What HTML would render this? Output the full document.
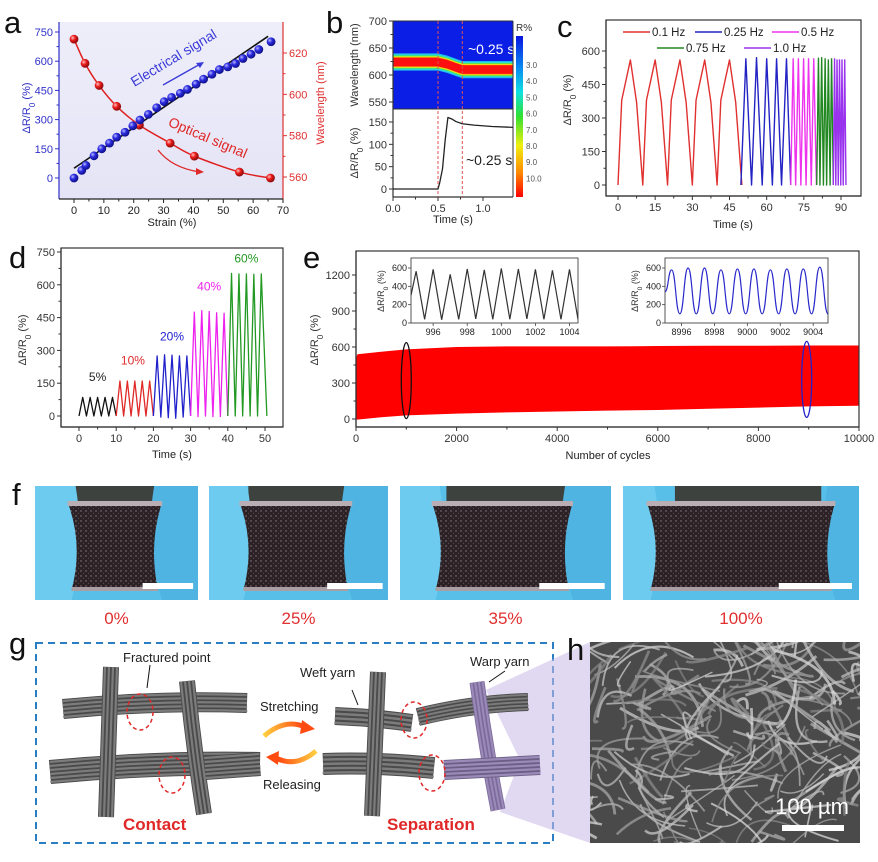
<!DOCTYPE html>
<html><head><meta charset="utf-8">
<style>
html,body{margin:0;padding:0;background:#fff;}
svg{display:block;font-family:"Liberation Sans",Arial,sans-serif;}
</style></head>
<body>
<svg id="fig" xmlns="http://www.w3.org/2000/svg" width="878" height="862" viewBox="0 0 878 862">
<defs>
<radialGradient id="ballBlue" cx="35%" cy="35%" r="65%"><stop offset="0" stop-color="#b8b8ff"/><stop offset="0.45" stop-color="#2a2ae0"/><stop offset="1" stop-color="#10108a"/></radialGradient>
<radialGradient id="ballRed" cx="35%" cy="35%" r="65%"><stop offset="0" stop-color="#ffc0c0"/><stop offset="0.45" stop-color="#ee1c1c"/><stop offset="1" stop-color="#8a0a0a"/></radialGradient>
<linearGradient id="cbar" x1="0" y1="0" x2="0" y2="1"><stop offset="0" stop-color="#0a14e0"/><stop offset="0.2" stop-color="#0a8cf0"/><stop offset="0.35" stop-color="#10e0e0"/><stop offset="0.5" stop-color="#30e030"/><stop offset="0.68" stop-color="#f0f010"/><stop offset="0.85" stop-color="#ff8800"/><stop offset="1" stop-color="#ff0000"/></linearGradient>
<linearGradient id="aBg" x1="0" y1="0" x2="0" y2="1"><stop offset="0" stop-color="#eeeefa"/><stop offset="1" stop-color="#e4e4f6"/></linearGradient>
<linearGradient id="orangeR" x1="0" y1="0" x2="1" y2="0"><stop offset="0" stop-color="#ffd040"/><stop offset="1" stop-color="#ff4010"/></linearGradient>
<linearGradient id="orangeL" x1="1" y1="0" x2="0" y2="0"><stop offset="0" stop-color="#ffd040"/><stop offset="1" stop-color="#ff4010"/></linearGradient>
<pattern id="speck" width="5" height="5" patternUnits="userSpaceOnUse"><rect width="5" height="5" fill="#2c2226"/><circle cx="1" cy="1" r="0.7" fill="#8c8088"/><circle cx="3.5" cy="3.2" r="0.5" fill="#6a5e66"/></pattern>
<clipPath id="heatClip"><rect x="393" y="21" width="120" height="88"/></clipPath>
<clipPath id="hClip"><rect x="590" y="642" width="270" height="201"/></clipPath>
</defs>
</svg>
<script>
// ---------------- DATA ----------------
// panel a
const aStrain = [0,2.6,4,6.7,9.3,11.9,14.3,17.1,19.7,22.1,24.9,27.7,30.2,32.7,35.6,38,40.9,43.4,46.2,48.7,51.5,54.1,56.6,59.3,61.9,66];
const aElec = [0,39,65,114,150,179,210,235,268,298,327,361,392,414,435,455,482,508,533,557,571,588,614,636,660,700];
const aOptStrain = [0,3.7,8.4,14.3,21.9,32.2,40.3,55.4,65.8];
const aOptWave = [626.7,615,604.3,594.2,585.1,576.4,570.1,562.4,559.5];
const aFitStrain = [0,65];
const aFitVal = [50,728];
const aXTicks = [0,10,20,30,40,50,60,70];
const aYTicks = [0,150,300,450,600,750];
const aRTicks = [560,580,600,620];
// panel b
const heatT = [0,0.5,0.6,0.7,0.77,1.33];
const heatC = [624,624,620,614,610,610];
const bT = [0,0.5,0.52,0.55,0.58,0.61,0.65,0.7,0.77,0.9,1.1,1.33];
const bV = [0,0,15,45,110,160,157,151,146,143,140,138];
const bMarks = [0.5,0.77];
const bWaveTicks = [550,600,650,700];
const bRTicks = [0,50,100,150];
const bXTicks = [0,0.5,1.0];
const bXLabels = ["0.0","0.5","1.0"];
const cbarLabels = ["3.0","4.0","5.0","6.0","7.0","8.0","9.0","10.0"];
// panel c
const c01T = [0,1.5,5,7.5,10,11.5,15,17.5,20,21.5,25,27.5,30,31.5,35,37.5,40,41.5,45,47.5,50];
const c01V = [0,380,560,370,0,380,560,370,0,380,560,370,0,380,560,370,0,380,560,370,0];
const c025T = [49.6,51.6,53.9,55.9,58.2,60,62.3,64,66,68,69.7];
const c025V = [0,565,0,570,0,565,0,565,0,565,0];
const c05T = [69.7,70.7,71.7,72.8,73.8,74.9,75.9,76.9,78,79,80.1];
const c05V = [0,565,0,565,0,565,0,565,0,565,0];
const c075T = [80.2,80.9,81.5,82.2,82.9,83.6,84.2,84.9,85.6,86.2,86.9];
const c075V = [0,568,0,570,0,565,0,560,0,565,0];
const c10T = [86.9,87.4,87.9,88.4,88.9,89.4,89.9,90.4,90.9,91.5,92];
const c10V = [0,565,0,560,0,560,0,560,0,560,0];
const cXTicks = [0,15,30,45,60,75,90];
const cYTicks = [0,150,300,450,600];
// panel d
const dT5 = [0,1,2,3,4,5,6,7,8,9,10];
const d5V = [0,85,0,85,0,85,0,85,0,85,0];
const dT10 = [10,11,12,13,14,15,16,17,18,19,20];
const d10V = [0,160,0,160,0,160,0,160,0,160,0];
const dT20 = [20,21,22,23,24,25,26,27,28,29,30];
const d20V = [0,275,-5,280,-8,278,-10,275,-5,275,0];
const dT40 = [30,31,32,33,34,35,36,37,38,39,40];
const d40V = [0,475,-3,482,0,478,-3,472,-2,470,0];
const dT60 = [40,41,42,43,44,45,46,47,48,49,50.5];
const d60V = [0,652,0,650,0,650,0,648,0,650,0];
const dXTicks = [0,10,20,30,40,50];
const dYTicks = [0,150,300,450,600,750];
// panel e
const eN = [0,30,500,1000,2000,3000,4000,5000,6000,7000,8000,9000,10000];
const eTop = [510,540,560,580,600,605,605,605,608,610,610,612,612];
const eBot = [0,-5,15,30,45,55,62,70,75,85,95,105,110];
const eXTicks = [0,2000,4000,6000,8000,10000];
const eYTicks = [0,300,600,900,1200];
const in1Peaks = [995,996,997,998,999,1000,1001,1002,1003,1004];
const in1PeakV = [565,585,530,590,580,595,590,585,575,585];
const in1TroughV = [40,35,40,45,40,40,45,40,40,40];
const in2Peaks = [8995.4,8996.4,8997.4,8998.4,8999.4,9000.4,9001.4,9002.4,9003.4,9004.4];
const in2PeakV = [580,600,600,580,590,590,580,590,590,610];
const in2TroughV = [100,100,100,100,100,100,100,100,100,100];
const in1XTicks = [996,998,1000,1002,1004];
const in2XTicks = [8996,8998,9000,9002,9004];
const inYTicks = [0,200,400,600];

// ---------------- HELPERS ----------------
const NS = "http://www.w3.org/2000/svg";
const svg = document.getElementById('fig');
function el(tag, attrs, parent){
  const e = document.createElementNS(NS, tag);
  for (const k in attrs) e.setAttribute(k, attrs[k]);
  (parent || svg).appendChild(e);
  return e;
}
function grp(name){
  const g = el('g', {});
  
  
  return g;
}
function txt(parent, x, y, s, opts, name){
  const t = el('text', Object.assign({x:x, y:y, 'font-size':11, fill:'#222'}, opts||{}), parent);
  t.textContent = s;
  
  
  return t;
}
function ln(parent, x1,y1,x2,y2, stroke, w, name, extra){
  const l = el('line', Object.assign({x1:x1,y1:y1,x2:x2,y2:y2,stroke:stroke,'stroke-width':w}, extra||{}), parent);
  
  
  return l;
}
function lin(d0,d1,r0,r1){ return v => r0 + (v-d0)*(r1-r0)/(d1-d0); }
function axis(parent, dir, pos, a, b, ticks, scale, color, name, labels, fs, minor){
  const g = el('g', {}, parent);
  
  
  if (dir === 'bottom') ln(g, a, pos, b, pos, color, 1.2, name + '-line');
  else ln(g, pos, a, pos, b, color, 1.2, name + '-line');
  ticks.forEach((v,i) => {
    const p = scale(v);
    const lab = labels ? labels[i] : String(v);
    if (dir === 'left') {
      ln(g, pos-4, p, pos, p, color, 1, name + '-tick');
      txt(g, pos-6, p+4, lab, {'text-anchor':'end', fill:color, 'font-size':fs||11}, name + '-label');
    } else if (dir === 'right') {
      ln(g, pos, p, pos+4, p, color, 1, name + '-tick');
      txt(g, pos+6, p+4, lab, {'text-anchor':'start', fill:color, 'font-size':fs||11}, name + '-label');
    } else {
      ln(g, p, pos, p, pos+4, color, 1, name + '-tick');
      txt(g, p, pos+15, lab, {'text-anchor':'middle', fill:color, 'font-size':fs||11}, name + '-label');
    }
  });
  if (minor) {
    for (let i=0;i<ticks.length-1;i++){
      const p = scale((ticks[i]+ticks[i+1])/2);
      if (dir === 'left') ln(g, pos-2.5, p, pos, p, color, 1, name + '-minor-tick');
      else if (dir === 'right') ln(g, pos, p, pos+2.5, p, color, 1, name + '-minor-tick');
      else ln(g, p, pos, p, pos+2.5, color, 1, name + '-minor-tick');
    }
  }
  return g;
}
function polyPath(xs, ys, sx, sy){
  return xs.map((v,i) => (i?'L':'M') + sx(v).toFixed(2) + ' ' + sy(ys[i]).toFixed(2)).join(' ');
}
function series(parent, xs, ys, sx, sy, color, w, name){
  const p = el('path', {d: polyPath(xs, ys, sx, sy), fill:'none', stroke:color, 'stroke-width':w, 'stroke-linejoin':'round'}, parent);
  
  
  return p;
}
function rotText(parent, x, y, angle, parts, opts, name){
  const t = el('text', Object.assign({x:0, y:0, 'font-size':11, 'text-anchor':'middle', transform:`translate(${x},${y}) rotate(${angle})`}, opts), parent);
  
  
  parts.forEach(pp => {
    const s = el('tspan', pp.sub ? {'baseline-shift':'sub','font-size':'0.75em'} : {}, t);
    s.textContent = pp.t;
  });
  return t;
}
function panelLetter(x, y, s){
  const t = el('text', {x:x, y:y, 'font-size':31, fill:'#111'});
  t.textContent = s;
  
  
}
const DR = [{t:'ΔR/R'},{t:'0',sub:true},{t:' (%)'}];

// ---------------- PANEL A ----------------
(function(){
  const g = grp('panel-a-chart');
  const xa = lin(0,70,74,283), ya = lin(0,750,178,32), yr = lin(560,620,177,53);
  const bg = el('rect', {x:59, y:22, width:224, height:177, fill:'url(#aBg)'}, g);
  
  
  axis(g, 'left', 59, 22, 199, aYTicks, ya, '#3030c8', 'y-axis-left', null, 11, true);
  axis(g, 'right', 283, 22, 199, aRTicks, yr, '#e03030', 'y-axis-right', null, 11, true);
  axis(g, 'bottom', 199, 59, 283, aXTicks, xa, '#222', 'x-axis', null, 11, true);
  series(g, aFitStrain, aFitVal, xa, ya, '#111', 1.6, 'fit-line');
  let d = '';
  const px = aOptStrain.map(xa), py = aOptWave.map(yr);
  for (let i=0;i<px.length;i++){
    if (i===0) { d += `M${px[0]} ${py[0]}`; continue; }
    const p0x = px[Math.max(i-2,0)], p0y = py[Math.max(i-2,0)];
    const p1x = px[i-1], p1y = py[i-1], p2x = px[i], p2y = py[i];
    const p3x = px[Math.min(i+1,px.length-1)], p3y = py[Math.min(i+1,px.length-1)];
    d += ` C${p1x+(p2x-p0x)/6} ${p1y+(p2y-p0y)/6} ${p2x-(p3x-p1x)/6} ${p2y-(p3y-p1y)/6} ${p2x} ${p2y}`;
  }
  const oc = el('path', {d:d, fill:'none', stroke:'#e02020', 'stroke-width':1.5}, g);
  
  
  aOptStrain.forEach((s,i) => {
    const c = el('circle', {cx:xa(s), cy:yr(aOptWave[i]), r:4.4, fill:'url(#ballRed)'}, g);
    
    
  });
  aStrain.forEach((s,i) => {
    const c = el('circle', {cx:xa(s), cy:ya(aElec[i]), r:4.4, fill:'url(#ballBlue)'}, g);
    
    
  });
  rotText(g, 176, 62, -31, [{t:'Electrical signal'}], {'font-size':14, fill:'#3a3ad8'}, 'electrical-signal-label');
  ln(g, 163, 85, 202, 63, '#3a3ad8', 1.3, 'electrical-arrow');
  const ah = el('path', {d:'M204 62 L196 63 L200 68 Z', fill:'#3a3ad8'}, g);
  
  
  rotText(g, 206, 142, 23, [{t:'Optical signal'}], {'font-size':14, fill:'#e02828'}, 'optical-signal-label');
  const ca = el('path', {d:'M158 150 Q172 168 200 172', fill:'none', stroke:'#e02828', 'stroke-width':1.3}, g);
  
  
  const ch = el('path', {d:'M204 172 L196 168 L196 175 Z', fill:'#e02828'}, g);
  
  
  rotText(g, 30, 108, -90, DR, {fill:'#3030c8'}, 'y-axis-title-left');
  rotText(g, 324, 103, -90, [{t:'Wavelength (nm)'}], {fill:'#e03030'}, 'y-axis-title-right');
  txt(g, 172, 226, 'Strain (%)', {'text-anchor':'middle'}, 'x-axis-title');
})();
panelLetter(4, 33, 'a');

// ---------------- PANEL B ----------------
(function(){
  const g = grp('panel-b-chart');
  const xb = lin(0,1,393,483), yh = lin(550,700,102,21), yb = lin(0,150,189,122);
  const hm = el('g', {'clip-path':'url(#heatClip)'}, g);
  
  
  const bgr = el('rect', {x:393, y:21, width:120, height:88, fill:'#0a1ee6'}, hm);
  
  
  const layers = [[16,'#20b8f0'],[14,'#30e0d0'],[12,'#50e040'],[10.5,'#e8f020'],[9,'#ff9000'],[8,'#ff1010']];
  layers.forEach(L => {
    const hw = L[0];
    const top = heatT.map((t,i) => `${xb(t)},${yh(heatC[i]+hw)}`);
    const bot = heatT.map((t,i) => `${xb(t)},${yh(heatC[i]-hw)}`).reverse();
    const p = el('polygon', {points: top.concat(bot).join(' '), fill:L[1]}, hm);
    
    
  });
  txt(g, 468, 54, '~0.25 s', {'font-size':14, fill:'#fff'}, 'heatmap-annotation');
  axis(g, 'left', 393, 21, 109, bWaveTicks, yh, '#333', 'heatmap-y-axis', null, 11, true);
  ln(g, 393, 21, 513, 21, '#333', 1, 'heatmap-top-border');
  ln(g, 513, 21, 513, 197, '#333', 1, 'right-border');
  ln(g, 393, 109, 513, 109, '#333', 1, 'panel-divider');
  axis(g, 'left', 393, 109, 197, bRTicks, yb, '#333', 'response-y-axis', null, 11, true);
  axis(g, 'bottom', 197, 393, 513, bXTicks, xb, '#333', 'time-axis', bXLabels, 11, true);
  bMarks.forEach(t => {
    ln(g, xb(t), 21, xb(t), 197, '#e05050', 1, 'time-marker', {'stroke-dasharray':'3,2'});
  });
  series(g, bT, bV, xb, yb, '#222', 1.3, 'response-line');
  txt(g, 466, 165, '~0.25 s', {'font-size':14, fill:'#222'}, 'response-annotation');
  const cb = el('rect', {x:516, y:36, width:7, height:161, fill:'url(#cbar)'}, g);
  
  
  txt(g, 516, 31, 'R%', {'font-size':10, fill:'#333'}, 'colorbar-title');
  cbarLabels.forEach((s,i) => {
    txt(g, 526, 68 + i*16.2, s, {'font-size':8, fill:'#555'}, 'colorbar-label');
  });
  rotText(g, 358, 65, -90, [{t:'Wavelength (nm)'}], {fill:'#333'}, 'heatmap-y-title');
  rotText(g, 358, 153, -90, DR, {fill:'#333'}, 'response-y-title');
  txt(g, 453, 223, 'Time (s)', {'text-anchor':'middle'}, 'x-axis-title');
})();
panelLetter(326, 33, 'b');

// ---------------- PANEL C ----------------
(function(){
  const g = grp('panel-c-chart');
  const xc = lin(0,90,618,841), yc = lin(0,600,185,51);
  const fr = el('rect', {x:606, y:20, width:255, height:176, fill:'none', stroke:'#333', 'stroke-width':1.2}, g);
  
  
  axis(g, 'left', 606, 20, 196, cYTicks, yc, '#333', 'y-axis', null, 11, true);
  axis(g, 'bottom', 196, 606, 861, cXTicks, xc, '#333', 'x-axis', null, 11, true);
  series(g, c01T, c01V, xc, yc, '#e03030', 1.4, 'series-0.1hz');
  series(g, c025T, c025V, xc, yc, '#2424c4', 1.4, 'series-0.25hz');
  series(g, c05T, c05V, xc, yc, '#ee33ee', 1.4, 'series-0.5hz');
  series(g, c075T, c075V, xc, yc, '#228822', 1.4, 'series-0.75hz');
  series(g, c10T, c10V, xc, yc, '#9933ee', 1.4, 'series-1.0hz');
  const leg = [[623,32,'#e03030','0.1 Hz'],[695,32,'#2424c4','0.25 Hz'],[772,32,'#ee33ee','0.5 Hz'],[657,48,'#228822','0.75 Hz'],[744,48,'#9933ee','1.0 Hz']];
  leg.forEach(L => {
    ln(g, L[0], L[1], L[0]+27, L[1], L[2], 1.6, 'legend-swatch');
    txt(g, L[0]+29, L[1]+4, L[3], {'font-size':11.5}, 'legend-entry');
  });
  rotText(g, 571, 100, -90, DR, {fill:'#333'}, 'y-axis-title');
  txt(g, 733, 228, 'Time (s)', {'text-anchor':'middle'}, 'x-axis-title');
})();
panelLetter(557, 37, 'c');

// ---------------- PANEL D ----------------
(function(){
  const g = grp('panel-d-chart');
  const xd = lin(0,50,79,265), yd = lin(0,750,416,252);
  const fr = el('rect', {x:61, y:248, width:222, height:179, fill:'none', stroke:'#333', 'stroke-width':1.2}, g);
  
  
  axis(g, 'left', 61, 248, 427, dYTicks, yd, '#333', 'y-axis', null, 11, true);
  axis(g, 'bottom', 427, 61, 283, dXTicks, xd, '#333', 'x-axis', null, 11, true);
  series(g, dT5, d5V, xd, yd, '#111', 1.3, 'series-5pct');
  series(g, dT10, d10V, xd, yd, '#e02a2a', 1.3, 'series-10pct');
  series(g, dT20, d20V, xd, yd, '#2222cc', 1.3, 'series-20pct');
  series(g, dT40, d40V, xd, yd, '#ee22ee', 1.3, 'series-40pct');
  series(g, dT60, d60V, xd, yd, '#229922', 1.3, 'series-60pct');
  const labs = [[5,160,'5%','#222'],[14.5,235,'10%','#e02a2a'],[25,345,'20%','#2222cc'],[35,575,'40%','#ee22ee'],[45,702,'60%','#229922']];
  labs.forEach(L => txt(g, xd(L[0]), yd(L[1]), L[2], {'text-anchor':'middle', fill:L[3], 'font-size':12}, 'strain-label'));
  rotText(g, 26, 340, -90, DR, {fill:'#333'}, 'y-axis-title');
  txt(g, 172, 458, 'Time (s)', {'text-anchor':'middle'}, 'x-axis-title');
})();
panelLetter(9, 268, 'd');

// ---------------- PANEL E ----------------
(function(){
  const g = grp('panel-e-chart');
  const xe = lin(0,10000,356,859), ye = lin(0,1200,419,275);
  const top = eN.map((n,i) => `${xe(n)},${ye(eTop[i])}`);
  const bot = eN.map((n,i) => `${xe(n)},${ye(eBot[i])}`).reverse();
  const band = el('polygon', {points: top.concat(bot).join(' '), fill:'#ff0000'}, g);
  
  
  const fr = el('rect', {x:356, y:251, width:503, height:176, fill:'none', stroke:'#333', 'stroke-width':1.2}, g);
  
  
  axis(g, 'left', 356, 251, 427, eYTicks, ye, '#333', 'y-axis', null, 11, true);
  axis(g, 'bottom', 427, 356, 859, eXTicks, xe, '#333', 'x-axis', null, 11, true);
  const e1 = el('ellipse', {cx:xe(1000), cy:ye(320), rx:5, ry:38, fill:'none', stroke:'#111', 'stroke-width':1.3}, g);
  
  
  const e2 = el('ellipse', {cx:xe(8960), cy:ye(330), rx:5, ry:38, fill:'none', stroke:'#2222cc', 'stroke-width':1.3}, g);
  
  
  rotText(g, 318, 340, -90, DR, {fill:'#333'}, 'y-axis-title');
  txt(g, 608, 459, 'Number of cycles', {'text-anchor':'middle'}, 'x-axis-title');
  const yi = lin(0,600,323,268);
  function inset(name, x0, x1, tmin, tmax, peaks, pv, tv, ticks, color, smooth){
    const ig = el('g', {}, g);
    
    
    const xi = lin(tmin, tmax, x0, x1);
    const r = el('rect', {x:x0, y:258, width:x1-x0, height:65, fill:'#fff', stroke:'#444', 'stroke-width':0.9}, ig);
    
    
    const pts = [];
    pts.push([tmin, (pv[0]+tv[0])/2]);
    peaks.forEach((t,i) => { pts.push([t, pv[i]]); pts.push([t+0.5, tv[i]]); });
    const clip = el('clipPath', {id: name + '-clip'}, ig);
    el('rect', {x:x0, y:258, width:x1-x0, height:65}, clip);
    let d = '';
    pts.forEach((p,i) => {
      const X = xi(p[0]), Y = yi(p[1]);
      if (i===0) d += `M${X} ${Y}`;
      else if (smooth) { const Xp = xi(pts[i-1][0]), Yp = yi(pts[i-1][1]); const m = (X-Xp)/2; d += ` C${Xp+m} ${Yp} ${X-m} ${Y} ${X} ${Y}`; }
      else d += ` L${X} ${Y}`;
    });
    const p = el('path', {d:d, fill:'none', stroke:color, 'stroke-width':1.2, 'clip-path':`url(#${name}-clip)`}, ig);
    
    
    ticks.forEach(t => {
      ln(ig, xi(t), 323, xi(t), 326, '#444', 0.8, 'inset-x-tick');
      txt(ig, xi(t), 335, String(t), {'text-anchor':'middle', 'font-size':9}, 'inset-x-label');
    });
    inYTicks.forEach(v => {
      ln(ig, x0-3, yi(v), x0, yi(v), '#444', 0.8, 'inset-y-tick');
      txt(ig, x0-4, yi(v)+3, String(v), {'text-anchor':'end', 'font-size':9}, 'inset-y-label');
    });
    rotText(ig, x0-27, 291, -90, DR, {'font-size':9, fill:'#333'}, 'inset-y-title');
  }
  inset('inset-cycle-1000', 411, 578, 994.7, 1004.5, in1Peaks, in1PeakV, in1TroughV, in1XTicks, '#333', false);
  inset('inset-cycle-9000', 665, 828, 8995, 9004.9, in2Peaks, in2PeakV, in2TroughV, in2XTicks, '#2a2acc', true);
})();
panelLetter(303, 268, 'e');

// ---------------- PANEL F (photos) ----------------
(function(){
  const g = grp('panel-f-photos');
  const photos = [[35,163,0.2,0.78,'0%'],[209,179,0.17,0.8,'25%'],[400,211,0.15,0.82,'35%'],[623,236,0.1,0.9,'100%']];
  photos.forEach((P,i) => {
    const [x0,w,fa,fb,lab] = P;
    const pg = el('g', {}, g);
    
    
    const b = el('rect', {x:x0, y:486, width:w, height:114, fill:'#58bfe8'}, pg);
    
    
    const dk = el('rect', {x:x0+w*0.22, y:486, width:w*0.62, height:30, fill:'#3e423f'}, pg);
    
    
    const lg = el('path', {d:`M${x0} 486 L${x0+w*fa+8} 486 Q${x0+w*fa+18} 545 ${x0+w*fa+4} 600 L${x0} 600 Z`, fill:'#6ccbef'}, pg);
    
    
    const rg = el('path', {d:`M${x0+w} 486 L${x0+w*fb-8} 486 Q${x0+w*fb-18} 545 ${x0+w*fb} 600 L${x0+w} 600 Z`, fill:'#4fb4e2'}, pg);
    
    
    const a = x0+w*fa, bb = x0+w*fb;
    const fab = el('path', {d:`M${a} 502 L${bb} 502 Q${bb-14} 545 ${bb-4} 590 L${a+4} 590 Q${a+16} 545 ${a} 502 Z`, fill:'url(#speck)'}, pg);
    
    
    const ts = el('rect', {x:a, y:501, width:bb-a, height:5, fill:'#b9aeb4'}, pg);
    
    
    const bs = el('rect', {x:a+4, y:587, width:bb-a-8, height:4, fill:'#a89ea4'}, pg);
    
    
    const sb = el('rect', {x:x0+w*0.66, y:583, width:w*0.31, height:6, fill:'#ffffff'}, pg);
    
    
    txt(g, x0+w/2, 624, lab, {'text-anchor':'middle', fill:'#e03030', 'font-size':17}, 'strain-caption');
  });
})();
panelLetter(12, 505, 'f');

// ---------------- PANEL G (schematic) ----------------
(function(){
  const g = grp('panel-g-schematic');
  const box = el('rect', {x:36, y:643, width:517, height:200, fill:'none', stroke:'#2a7fc4', 'stroke-width':2, 'stroke-dasharray':'7,5'}, g);
  
  
  const wedge = el('polygon', {points:'486,690 520,760 500,812 590,843 590,642', fill:'#c8b8e6', opacity:0.55}, g);
  
  
  function yarn(name, x1,y1,x2,y2,w,n,bend,tint){
    const yg = el('g', {}, g);
    
    
    const dx=x2-x1, dy=y2-y1, L=Math.hypot(dx,dy), nx=-dy/L, ny=dx/L;
    const mx=(x1+x2)/2+nx*bend, my=(y1+y2)/2+ny*bend;
    const base = el('path', {d:`M${x1} ${y1} Q${mx} ${my} ${x2} ${y2}`, fill:'none', stroke:tint||'#4a4a4a', 'stroke-width':w}, yg);
    
    
    for (let i=0;i<n;i++){
      const o = -w/2 + (i+0.5)*w/n;
      const s = el('path', {d:`M${x1+nx*o} ${y1+ny*o} Q${mx+nx*o} ${my+ny*o} ${x2+nx*o} ${y2+ny*o}`, fill:'none', stroke:tint?'#9a8ab8':'#7c7c7c', 'stroke-width':w/n*0.55}, yg);
      
      
    }
  }
  yarn('weft-yarn-top', 63,709,247,703,20,5,-6);
  yarn('weft-yarn-bottom', 50,772,260,764,24,6,-6);
  yarn('warp-yarn-left', 111,667,106,817,16,4,0);
  yarn('warp-yarn-right', 187,681,204,814,16,4,2);
  yarn('weft-yarn-bottom-over', 205,768,260,764,24,6,0);
  yarn('weft-yarn-top-left-piece', 335,716,412,723,18,4,-2);
  yarn('weft-yarn-top-right-piece', 418,717,528,702,18,5,-6);
  yarn('weft-yarn-bottom-left-piece', 323,764,434,768,22,5,-4);
  yarn('warp-yarn-sep-left', 378,672,372,816,16,4,0);
  yarn('warp-yarn-sep-right', 477,682,498,810,15,4,2,'#7c6a9c');
  yarn('weft-yarn-bottom-right-piece', 444,770,540,765,20,5,0,'#6a5e84');
  const circ = [[140,712],[172,775],[414,720],[432,773]];
  circ.forEach(c => {
    const e = el('ellipse', {cx:c[0], cy:c[1], rx:13, ry:18, fill:'none', stroke:'#e02828', 'stroke-width':1.5, 'stroke-dasharray':'4,3'}, g);
    
    
  });
  const arr = [[150,665,147,688],[352,690,358,705],[505,671,489,682]];
  arr.forEach(a => ln(g, a[0],a[1],a[2],a[3], '#111', 1, 'pointer-arrow'));
  const a1 = el('path', {d:'M264 736 Q285 718 305 727', fill:'none', stroke:'url(#orangeR)', 'stroke-width':5}, g);
  
  
  const a1h = el('path', {d:'M302 720 L315 729 L300 734 Z', fill:'#ff4a10'}, g);
  
  
  const a2 = el('path', {d:'M316 751 Q296 768 276 758', fill:'none', stroke:'url(#orangeL)', 'stroke-width':5}, g);
  
  
  const a2h = el('path', {d:'M279 751 L266 757 L278 765 Z', fill:'#ff4a10'}, g);
  
  
  txt(g, 123, 662, 'Fractured point', {'font-size':13}, 'fractured-point-label');
  txt(g, 300, 677, 'Weft yarn', {'font-size':13}, 'weft-yarn-label');
  txt(g, 470, 666, 'Warp yarn', {'font-size':13}, 'warp-yarn-label');
  txt(g, 260, 711, 'Stretching', {'font-size':13}, 'stretching-label');
  txt(g, 263, 789, 'Releasing', {'font-size':13}, 'releasing-label');
  txt(g, 123, 830, 'Contact', {'font-size':17, 'font-weight':'bold', fill:'#e02828'}, 'contact-label');
  txt(g, 387, 830, 'Separation', {'font-size':17, 'font-weight':'bold', fill:'#e02828'}, 'separation-label');
})();
panelLetter(9, 654, 'g');

// ---------------- PANEL H (SEM) ----------------
(function(){
  const g = grp('panel-h-sem-image');
  const b = el('rect', {x:590, y:642, width:270, height:201, fill:'#4a4a4a'}, g);
  
  
  const fg = el('g', {'clip-path':'url(#hClip)'}, g);
  
  
  let s = 12345;
  function rnd(){ s = (s*1103515245 + 12345) % 2147483648; return s/2147483648; }
  for (let i=0;i<230;i++){
    const x1 = 580 + rnd()*290, y1 = 635 + rnd()*215;
    const x2 = x1 + (rnd()-0.5)*160, y2 = y1 + (rnd()-0.5)*110;
    const cx = (x1+x2)/2 + (rnd()-0.5)*70, cy = (y1+y2)/2 + (rnd()-0.5)*70;
    const shade = Math.floor(130 + rnd()*90);
    const f = el('path', {d:`M${x1} ${y1} Q${cx} ${cy} ${x2} ${y2}`, fill:'none', stroke:`rgb(${shade},${shade},${shade})`, 'stroke-width':1.4 + rnd()*1.6, opacity:0.75}, fg);
    
    
  }
  const sb = el('rect', {x:782, y:825, width:62, height:6, fill:'#fff'}, g);
  
  
  txt(g, 812, 814, '100 µm', {'text-anchor':'middle', fill:'#fff', 'font-size':22}, 'scale-bar-label');
})();
panelLetter(567, 660, 'h');
</script>
</body></html>
